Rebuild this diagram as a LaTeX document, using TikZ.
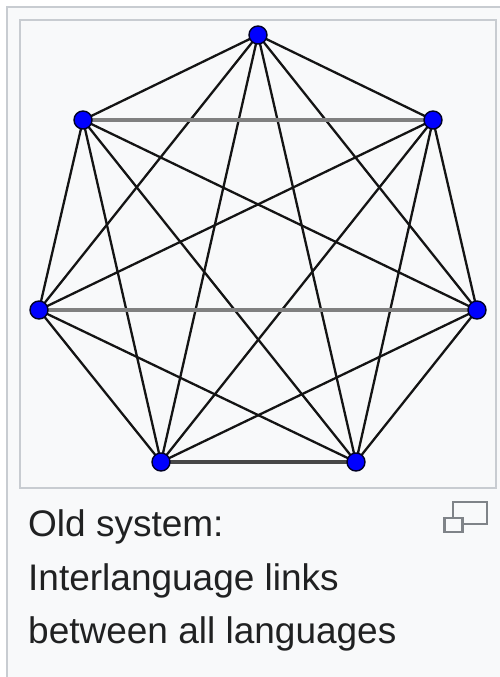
\documentclass[tikz,border=0pt]{standalone}
\usepackage{fontspec}
\setmainfont{Liberation Sans}
\definecolor{bgc}{HTML}{F8F9FA}
\definecolor{brd}{HTML}{C8CCD1}
\definecolor{txt}{HTML}{202122}
\definecolor{nodeblue}{HTML}{0000FF}
\definecolor{iconc}{HTML}{7F8388}
\pgfdeclarelayer{bg}
\pgfdeclarelayer{edges}
\pgfsetlayers{bg,edges,main}
\tikzset{
  vtx/.style={circle,fill=nodeblue,draw=black!85!blue,line width=1.4pt,minimum size=18pt,inner sep=0pt},
  edge/.style={black!92,line width=2.3pt},
  hedge/.style={gray,line width=4pt},
  hedgedark/.style={black!72,line width=4pt},
  caption/.style={anchor=base west,inner sep=0pt,text=txt,font=\fontsize{37}{40}\selectfont},
  iconbox/.style={draw=iconc,line width=2.4pt,fill=bgc,inner sep=0pt}
}
\begin{document}
\begin{tikzpicture}[x=1pt,y=-1pt]
\useasboundingbox (0,0) rectangle (500,677);
\begin{pgfonlayer}{bg}
\fill[white] (0,0) rectangle (500,677);
\draw[brd,fill=bgc,line width=2.2pt] (7,7) rectangle (520,700);
\draw[brd,line width=2.6pt] (20,20) rectangle (496,488);
\end{pgfonlayer}
% vertices
\node[vtx] (t) at (258,35) {};
\node[vtx] (ul) at (83,120) {};
\node[vtx] (ur) at (433,120) {};
\node[vtx] (l) at (39,310) {};
\node[vtx] (r) at (477,310) {};
\node[vtx] (bl) at (161,462) {};
\node[vtx] (br) at (356,462) {};
% edges
\begin{pgfonlayer}{edges}
\foreach \a/\b in {t/ul,t/ur,t/l,t/r,t/bl,t/br,ul/l,ul/r,ul/bl,ul/br,ur/l,ur/r,ur/bl,ur/br,l/bl,l/br,r/bl,r/br}
  \draw[edge] (\a.center) -- (\b.center);
\draw[hedge] (ul.center) -- (ur.center);
\draw[hedge] (l.center) -- (r.center);
\draw[hedgedark] (bl.center) -- (br.center);
\end{pgfonlayer}
% caption
\node[caption] (c1) at (28,536) {Old system:};
\node[caption] (c2) at (28,590) {Interlanguage links};
\node[caption] (c3) at (28,643) {between all languages};
% icon
\node[iconbox,minimum width=34pt,minimum height=22pt] (ib) at (470,513) {};
\node[iconbox,minimum width=18pt,minimum height=14pt] (is) at (453.5,525) {};
\end{tikzpicture}
\end{document}
